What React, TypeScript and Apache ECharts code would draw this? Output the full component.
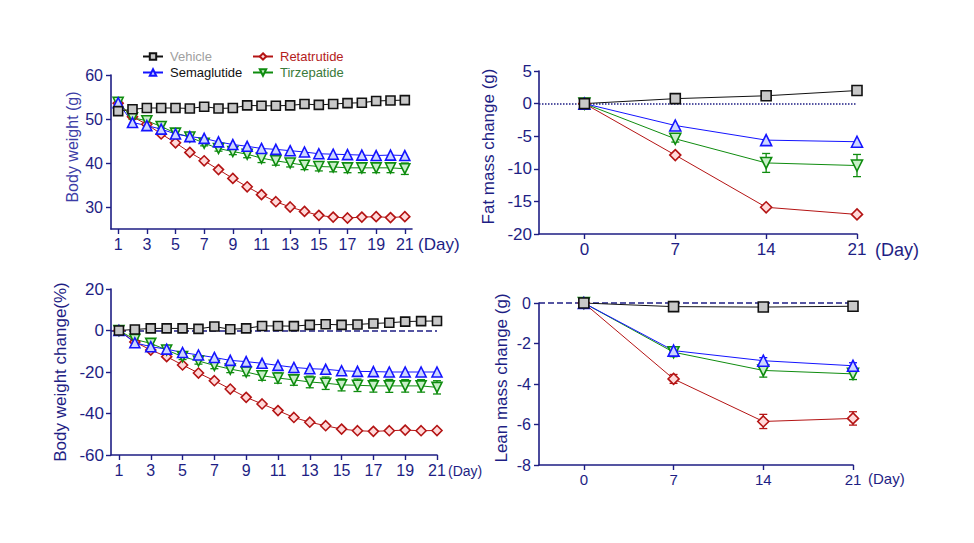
import React, { useEffect, useRef } from "react";
import * as echarts from "echarts";

const days = [1, 2, 3, 4, 5, 6, 7, 8, 9, 10, 11, 12, 13, 14, 15, 16, 17, 18, 19, 20, 21];
const oddDays = [1, 3, 5, 7, 9, 11, 13, 15, 17, 19, 21];
const weeks = [0, 7, 14, 21];
const bwTicks = [30, 40, 50, 60];

// Body weight (g)
const bwVehicle = [51.8, 52.2, 52.5, 52.5, 52.5, 52.4, 52.8, 52.4, 52.5, 53.1, 53.0, 53.0, 53.1, 53.4, 53.2, 53.4, 53.6, 53.7, 54.1, 54.2, 54.3];
const bwSema = [53.7, 49.2, 48.5, 47.7, 46.6, 46.0, 45.6, 44.8, 44.2, 43.8, 43.3, 43.1, 42.8, 42.5, 42.1, 42.0, 41.9, 41.8, 41.7, 41.8, 41.7];
const bwReta = [53.6, 50.5, 48.8, 46.6, 44.6, 42.4, 40.5, 38.5, 36.5, 34.6, 32.8, 31.2, 30.0, 29.0, 28.1, 27.7, 27.5, 27.7, 27.8, 27.6, 27.8];
const bwTirz = [53.8, 50.3, 49.6, 48.3, 46.8, 45.9, 44.5, 43.3, 42.6, 42.0, 41.1, 40.5, 40.0, 39.5, 39.2, 39.1, 38.9, 38.9, 38.9, 38.9, 38.7];
const bwTirzErr = [0.5, 0.4, 0.4, 0.4, 0.5, 0.5, 0.6, 0.6, 0.7, 0.8, 1.0, 1.0, 0.9, 1.0, 1.0, 1.1, 1.1, 1.1, 1.1, 1.1, 1.3];

// Body weight change (%)
const bwcVehicle = [0, 0.5, 1.0, 1.0, 1.0, 0.8, 1.9, 0.6, 1.0, 2.2, 2.2, 2.1, 2.7, 3.0, 2.7, 2.9, 3.4, 3.7, 4.3, 4.5, 4.6];
const bwcSema = [0, -5.9, -7.8, -9.0, -10.6, -11.8, -13.0, -14.4, -15.0, -15.8, -16.8, -17.8, -18.4, -18.7, -19.4, -19.7, -19.8, -20.0, -20.0, -20.0, -20.0];
const bwcReta = [0, -5.5, -9.4, -12.6, -16.6, -20.5, -24.2, -28.2, -32.2, -35.4, -38.6, -41.9, -44.2, -45.9, -47.5, -48.3, -48.6, -48.3, -48.0, -48.3, -48.2];
const bwcTirz = [0, -4.3, -6.2, -9.4, -12.6, -14.7, -16.8, -18.6, -20.0, -21.8, -22.9, -23.8, -24.8, -25.4, -26.2, -26.4, -26.7, -26.7, -26.7, -26.7, -27.4];
const bwcTirzErr = [0, 0.8, 1.0, 1.2, 1.4, 1.5, 1.6, 1.7, 1.8, 2.2, 2.5, 2.6, 2.8, 3.0, 2.9, 3.0, 3.0, 3.1, 3.0, 3.0, 3.2];

// Fat mass change (g)
const fmVehicle = [0, 0.76, 1.2, 2.0];
const fmSema = [0, -3.36, -5.6, -5.85];
const fmReta = [0, -7.9, -15.9, -17.0];
const fmTirz = [0, -5.4, -9.1, -9.5];
const fmTirzErr = [0, 0.5, 1.45, 1.7];

// Lean mass change (g)
const lmVehicle = [0, -0.18, -0.2, -0.16];
const lmSema = [0, -2.35, -2.85, -3.1];
const lmSemaErr = [0, 0.15, 0.15, 0.15];
const lmReta = [0, -3.75, -5.85, -5.7];
const lmRetaErr = [0, 0.22, 0.35, 0.33];
const lmTirz = [0, -2.43, -3.33, -3.5];
const lmTirzErr = [0, 0.22, 0.33, 0.28];

const NAVY = "#1e1e84";
const FONT = "Liberation Sans, Arial, sans-serif";

const groups = {
  Vehicle: { line: "#111111", border: "#111111", fill: "#c8c8c8", symbol: "rect", rotate: 0, text: "#a0a0a0" },
  Semaglutide: { line: "#1414ff", border: "#1414ff", fill: "#cdd6ff", symbol: "triangle", rotate: 0, text: "#111111" },
  Retatrutide: { line: "#b41414", border: "#b41414", fill: "#ffd9d9", symbol: "diamond", rotate: 0, text: "#b41c1c" },
  Tirzepatide: { line: "#0f8c0f", border: "#0f8c0f", fill: "#c8efc8", symbol: "triangle", rotate: 180, text: "#3a7a3a" },
};

type GName = keyof typeof groups;

function lineSeries(name: GName, gi: number, xs: number[], ys: number[], size: number, zeroLine?: string) {
  const g = groups[name];
  const s: any = {
    name,
    type: "line",
    xAxisIndex: gi,
    yAxisIndex: gi,
    data: xs.map((x, i) => [x, ys[i]]),
    symbol: g.symbol,
    symbolSize: name === "Vehicle" ? size - 1 : size,
    symbolRotate: g.rotate,
    showAllSymbol: true,
    lineStyle: { color: g.line, width: 1 },
    itemStyle: { color: g.fill, borderColor: g.border, borderWidth: 1.6 },
    emphasis: { disabled: true },
    z: 3,
  };
  if (zeroLine) {
    s.markLine = {
      silent: true,
      symbol: ["none", "none"],
      label: { show: false },
      lineStyle: { color: NAVY, type: zeroLine, width: 1.5 },
      data: [{ yAxis: 0 }],
      z: 1,
    };
  }
  return s;
}

function errSeries(name: GName, gi: number, xs: number[], ys: number[], es: number[]) {
  const g = groups[name];
  return {
    name: name + " SEM",
    type: "custom",
    xAxisIndex: gi,
    yAxisIndex: gi,
    data: xs.map((x, i) => [x, ys[i], es[i]]),
    z: 2,
    silent: true,
    renderItem: (params: any, api: any) => {
      const x = api.value(0);
      const y = api.value(1);
      const e = api.value(2);
      const top = api.coord([x, y + e]);
      const bot = api.coord([x, y - e]);
      const hw = 4;
      const st = { stroke: g.line, lineWidth: 1.3 };
      return {
        type: "group",
        children: [
          { type: "line", shape: { x1: top[0], y1: top[1], x2: bot[0], y2: bot[1] }, style: st },
          { type: "line", shape: { x1: top[0] - hw, y1: top[1], x2: top[0] + hw, y2: top[1] }, style: st },
          { type: "line", shape: { x1: bot[0] - hw, y1: bot[1], x2: bot[0] + hw, y2: bot[1] }, style: st },
        ],
      };
    },
  };
}

function axisBase(fontSize: number) {
  return {
    axisLine: { show: true, onZero: false, lineStyle: { color: NAVY, width: 1.6 } },
    axisTick: { show: true, inside: false, length: 5, lineStyle: { color: NAVY, width: 1.4 } },
    axisLabel: { color: NAVY, fontSize, fontFamily: FONT, margin: 7 },
    splitLine: { show: false },
  };
}

function dayText(x: number, y: number, fontSize: number) {
  return {
    type: "text",
    x,
    y,
    silent: true,
    style: { text: "(Day)", fill: NAVY, fontSize, fontFamily: FONT, verticalAlign: "middle", align: "left" },
  };
}

export default function App() {
  const ref = useRef<HTMLDivElement>(null);
  useEffect(() => {
    if (!ref.current) return;
    const chart = echarts.init(ref.current, undefined, { renderer: "svg" });

    const grids = [
      { left: 111, top: 75, width: 301, height: 154 },
      { left: 539, top: 71, width: 318, height: 163 },
      { left: 111, top: 289, width: 326, height: 166 },
      { left: 539, top: 303, width: 314, height: 162 },
    ].map((g) => ({ ...g, outerBoundsMode: "none", containLabel: false }));

    const b0 = axisBase(16);
    const b1 = axisBase(17);
    const b2 = axisBase(17);
    const b3 = axisBase(16);

    const xAxis = [
      {
        ...b0, type: "value", gridIndex: 0, min: 0.5, max: 21.5,
        axisTick: { ...b0.axisTick, customValues: oddDays },
        axisLabel: { ...b0.axisLabel, customValues: oddDays },
      },
      {
        ...b1, type: "value", gridIndex: 1, min: -3.5, max: 21,
        axisTick: { ...b1.axisTick, customValues: weeks },
        axisLabel: { ...b1.axisLabel, customValues: weeks },
      },
      {
        ...b2, type: "value", gridIndex: 2, min: 0.5, max: 21,
        axisTick: { ...b2.axisTick, customValues: oddDays },
        axisLabel: { ...b2.axisLabel, fontSize: 16, customValues: oddDays },
      },
      {
        ...b3, type: "value", gridIndex: 3, min: -3.5, max: 21,
        axisTick: { ...b3.axisTick, customValues: weeks },
        axisLabel: { ...b3.axisLabel, fontSize: 15, customValues: weeks },
      },
    ];

    const yAxis = [
      {
        ...b0, type: "value", gridIndex: 0, min: 25, max: 60,
        axisTick: { ...b0.axisTick, customValues: bwTicks },
        axisLabel: { ...b0.axisLabel, margin: 8, customValues: bwTicks },
        name: "Body weight (g)", nameLocation: "middle", nameGap: 31,
        nameTextStyle: { color: "#3c3ca6", fontSize: 16, fontFamily: FONT, padding: [0, 0, 0, 10] },
      },
      {
        ...b1, type: "value", gridIndex: 1, min: -20, max: 5, interval: 5,
        axisLabel: { ...b1.axisLabel, margin: 7 },
        name: "Fat mass change (g)", nameLocation: "middle", nameGap: 42,
        nameTextStyle: { color: NAVY, fontSize: 17, fontFamily: FONT, padding: [0, 0, 0, 12] },
      },
      {
        ...b2, type: "value", gridIndex: 2, min: -60, max: 20, interval: 20,
        axisLabel: { ...b2.axisLabel, margin: 7 },
        name: "Body weight change(%)", nameLocation: "middle", nameGap: 42,
        nameTextStyle: { color: NAVY, fontSize: 17, fontFamily: FONT },
      },
      {
        ...b3, type: "value", gridIndex: 3, min: -8, max: 0, interval: 2,
        axisLabel: { ...b3.axisLabel, margin: 8 },
        name: "Lean mass change (g)", nameLocation: "middle", nameGap: 29,
        nameTextStyle: { color: NAVY, fontSize: 17, fontFamily: FONT, padding: [0, 0, 0, 12] },
      },
    ];

    const series: any[] = [
      // Top-left: body weight
      lineSeries("Retatrutide", 0, days, bwReta, 10),
      errSeries("Tirzepatide", 0, days, bwTirz, bwTirzErr),
      lineSeries("Tirzepatide", 0, days, bwTirz, 10),
      lineSeries("Semaglutide", 0, days, bwSema, 10),
      lineSeries("Vehicle", 0, days, bwVehicle, 10),
      // Top-right: fat mass
      lineSeries("Retatrutide", 1, weeks, fmReta, 11, "dotted"),
      errSeries("Tirzepatide", 1, weeks, fmTirz, fmTirzErr),
      lineSeries("Tirzepatide", 1, weeks, fmTirz, 11),
      lineSeries("Semaglutide", 1, weeks, fmSema, 11),
      lineSeries("Vehicle", 1, weeks, fmVehicle, 11),
      // Bottom-left: body weight change
      lineSeries("Retatrutide", 2, days, bwcReta, 10, "dashed"),
      errSeries("Tirzepatide", 2, days, bwcTirz, bwcTirzErr),
      lineSeries("Tirzepatide", 2, days, bwcTirz, 10),
      lineSeries("Semaglutide", 2, days, bwcSema, 10),
      lineSeries("Vehicle", 2, days, bwcVehicle, 10),
      // Bottom-right: lean mass
      errSeries("Retatrutide", 3, weeks, lmReta, lmRetaErr),
      lineSeries("Retatrutide", 3, weeks, lmReta, 11, "dashed"),
      errSeries("Tirzepatide", 3, weeks, lmTirz, lmTirzErr),
      lineSeries("Tirzepatide", 3, weeks, lmTirz, 11),
      errSeries("Semaglutide", 3, weeks, lmSema, lmSemaErr),
      lineSeries("Semaglutide", 3, weeks, lmSema, 11),
      lineSeries("Vehicle", 3, weeks, lmVehicle, 11),
    ];

    const legendCommon = {
      orient: "vertical",
      top: 50,
      padding: 0,
      itemWidth: 20,
      itemHeight: 8,
      itemGap: 3,
      selectedMode: false,
      textStyle: { fontSize: 13, fontFamily: FONT, padding: [0, 0, 0, 2] },
    };

    chart.setOption({
      animation: false,
      backgroundColor: "#ffffff",
      textStyle: { fontFamily: FONT },
      grid: grids,
      xAxis,
      yAxis,
      legend: [
        {
          ...legendCommon,
          left: 142,
          data: (["Vehicle", "Semaglutide"] as GName[]).map((n) => ({ name: n, textStyle: { color: groups[n].text } })),
        },
        {
          ...legendCommon,
          left: 252,
          data: (["Retatrutide", "Tirzepatide"] as GName[]).map((n) => ({ name: n, textStyle: { color: groups[n].text } })),
        },
      ],
      graphic: [
        dayText(418, 244, 17),
        dayText(875, 250, 18),
        dayText(448, 471, 14),
        dayText(868, 478, 15),
      ],
      series,
    });

    return () => chart.dispose();
  }, []);

  return (
    <div
      ref={ref}
      style={{ position: "fixed", left: 0, top: 0, width: 974, height: 543, background: "#fff" }}
    />
  );
}
